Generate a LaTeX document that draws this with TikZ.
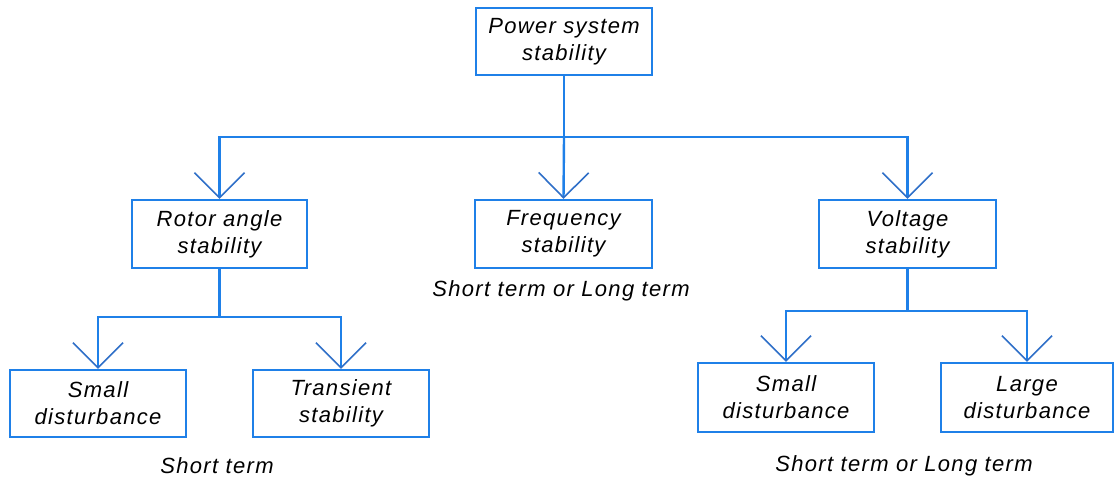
\documentclass[tikz,border=0pt]{standalone}
\usepackage{fontspec}
\setmainfont{Liberation Sans}[LetterSpace=6]
\usetikzlibrary{arrows.meta}
\definecolor{lineblue}{HTML}{1F80E8}
\definecolor{tipblue}{HTML}{2F6FC8}
\begin{document}
\begin{tikzpicture}[x=1pt,y=-1pt,
  box/.style={draw=lineblue, line width=2.4pt, fill=white, inner sep=0pt, align=center,
    font=\fontsize{22}{27}\selectfont\itshape},
  conn/.style={draw=lineblue, line width=2.4pt},
  arr/.style={conn, -{Straight Barb[length=25pt, width=50pt, line width=1.6pt, color=tipblue]}},
  lbl/.style={font=\fontsize{22}{27}\selectfont\itshape, inner sep=0pt}]
\useasboundingbox (0,0) rectangle (1115,483);
\node[box, minimum width=176pt, minimum height=67pt] (top) at (564,41.5) {Power system\\stability};
\node[box, minimum width=175pt, minimum height=68pt] (rotor) at (219.5,234) {Rotor angle\\stability};
\node[box, minimum width=177pt, minimum height=68pt] (freq) at (563.5,234) {Frequency\\stability};
\node[box, minimum width=177pt, minimum height=68pt] (volt) at (907.5,234) {Voltage\\stability};
\node[box, minimum width=176pt, minimum height=67pt] (sd1) at (98,403.5) {Small\\disturbance};
\node[box, minimum width=176pt, minimum height=67pt] (trans) at (341,403.5) {Transient\\stability};
\node[box, minimum width=176pt, minimum height=69pt] (sd2) at (786,397.5) {Small\\disturbance};
\node[box, minimum width=172pt, minimum height=69pt] (large) at (1027,397.5) {Large\\disturbance};
\node[lbl] (l1) at (561,291) {Short term or Long term};
\node[lbl] (l2) at (217,466) {Short term};
\node[lbl] (l3) at (904,466) {Short term or Long term};
\coordinate (j1) at (564,137);
\coordinate (j2) at (219.5,317);
\coordinate (j3) at (907.5,311);
\draw[conn] (top.south) -- (j1);
\draw[arr] (j1) -- (freq.north);
\draw[arr] (j1) -| (rotor.north);
\draw[arr] (j1) -| (volt.north);
\draw[conn] (rotor.south) -- (j2);
\draw[arr] (j2) -| (sd1.north);
\draw[arr] (j2) -| (trans.north);
\draw[conn] (volt.south) -- (j3);
\draw[arr] (j3) -| (sd2.north);
\draw[arr] (j3) -| (large.north);
\end{tikzpicture}
\end{document}
